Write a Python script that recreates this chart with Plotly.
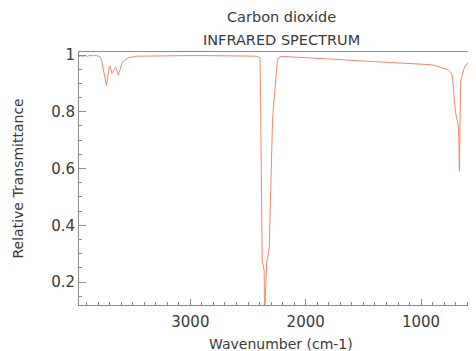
import plotly.graph_objects as go

# Wavenumber (cm-1) and relative transmittance
wavenumber = [
    3965, 3950, 3930, 3910, 3890, 3870, 3850, 3830, 3810, 3795, 3785, 3771,
    3760, 3750, 3740, 3733, 3727, 3720, 3712, 3703, 3695, 3688, 3680, 3673,
    3665, 3657, 3648, 3640, 3632, 3624, 3616, 3606, 3595, 3580, 3560, 3537,
    3500, 3468, 3400, 3300, 3200, 3100, 3000, 2900, 2800, 2700, 2600, 2500,
    2450, 2420, 2405, 2396, 2390, 2385, 2380, 2377, 2370, 2364, 2360, 2357,
    2354, 2350, 2345, 2338, 2330, 2322, 2316, 2310, 2303, 2296, 2288, 2280,
    2270, 2264, 2255, 2245, 2235, 2220, 2203, 2150, 2100, 2050, 2000, 1950,
    1900, 1850, 1788, 1700, 1600, 1500, 1442, 1380, 1300, 1200, 1095, 1000,
    960, 922, 880, 835, 800, 775, 760, 750, 740, 731, 724, 718, 712, 705,
    698, 690, 682, 676, 672, 669, 667, 664, 660, 657, 650, 643, 636, 630,
    620, 610, 600, 585, 570, 560, 540, 524,
]
transmittance = [
    0.995, 0.997, 0.996, 0.998, 0.995, 0.999, 0.997, 0.999, 0.997, 0.996, 0.995, 0.985,
    0.960, 0.935, 0.920, 0.902, 0.892, 0.912, 0.945, 0.958, 0.961, 0.948, 0.935, 0.938,
    0.948, 0.952, 0.958, 0.952, 0.940, 0.929, 0.938, 0.955, 0.970, 0.978, 0.985, 0.990,
    0.993, 0.996, 0.996, 0.997, 0.997, 0.998, 0.998, 0.998, 0.998, 0.997, 0.997, 0.996,
    0.996, 0.995, 0.993, 0.990, 0.800, 0.500, 0.300, 0.272, 0.262, 0.250, 0.240, 0.060,
    0.050, 0.150, 0.240, 0.270, 0.285, 0.300, 0.320, 0.420, 0.560, 0.660, 0.760, 0.815,
    0.860, 0.895, 0.945, 0.980, 0.990, 0.994, 0.995, 0.994, 0.993, 0.992, 0.991, 0.990,
    0.989, 0.987, 0.986, 0.984, 0.981, 0.979, 0.978, 0.977, 0.975, 0.972, 0.970, 0.968,
    0.967, 0.966, 0.963, 0.958, 0.953, 0.949, 0.946, 0.942, 0.938, 0.928, 0.910, 0.880,
    0.840, 0.800, 0.790, 0.775, 0.762, 0.740, 0.700, 0.600, 0.590, 0.720, 0.830, 0.905,
    0.920, 0.935, 0.945, 0.950, 0.958, 0.964, 0.970, 0.977, 0.980, 0.982, 0.985, 0.987,
]

title_lines = ["Carbon dioxide", "INFRARED SPECTRUM"]
x_title = "Wavenumber (cm-1)"
y_title = "Relative Transmittance"

FONT = "DejaVu Sans"
TXT = "#3a3a3a"
AX = "#8c8c8c"

fig = go.Figure()
fig.add_trace(go.Scatter(
    x=wavenumber, y=transmittance, mode="lines",
    line=dict(color="#F08866", width=1),
    hoverinfo="skip", showlegend=False,
))

axis_common = dict(
    showgrid=False, zeroline=False,
    showline=True, linecolor=AX, linewidth=1,
    ticks="inside", tickcolor=AX, tickwidth=1,
    tickfont=dict(family=FONT, size=15, color=TXT),
)

fig.update_xaxes(
    range=[3965, 524], dtick=1000, tick0=0, ticklen=6,
    mirror=True, ticklabelstandoff=3,
    minor=dict(dtick=100, tick0=0, ticklen=3, ticks="inside", tickcolor=AX, showgrid=False),
    **axis_common,
)
fig.update_yaxes(
    range=[0.119, 1.0106], dtick=0.2, tick0=0, ticklen=7,
    minor=dict(dtick=0.05, tick0=0, ticklen=3, ticks="inside", tickcolor=AX, showgrid=False),
    **axis_common,
)

fig.add_annotation(text=title_lines[0], x=0.509, y=1.138, xref="paper", yref="paper",
                   showarrow=False, font=dict(family=FONT, size=14.5, color=TXT),
                   xanchor="center", yanchor="middle")
fig.add_annotation(text=title_lines[1], x=0.509, y=1.047, xref="paper", yref="paper",
                   showarrow=False, font=dict(family=FONT, size=14.5, color=TXT),
                   xanchor="center", yanchor="middle")
fig.add_annotation(text=x_title, x=0.509, y=-0.154, xref="paper", yref="paper",
                   showarrow=False, font=dict(family=FONT, size=14, color=TXT),
                   xanchor="center", yanchor="middle")
fig.add_annotation(text=y_title, x=-0.1537, y=0.5, xref="paper", yref="paper",
                   showarrow=False, textangle=-90, font=dict(family=FONT, size=14, color=TXT),
                   xanchor="center", yanchor="middle")

# The page places the figure 8px in from the window's top-left corner.
fig.update_layout(
    width=468, height=343,
    margin=dict(l=71, r=0, t=44, b=46),
    paper_bgcolor="white", plot_bgcolor="white",
)

fig.write_html("out.html")
